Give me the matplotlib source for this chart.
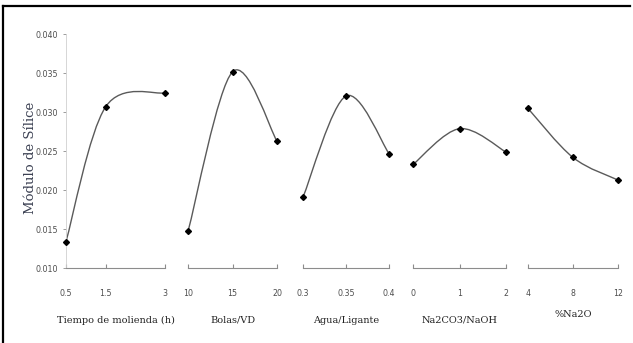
import matplotlib
matplotlib.use("Agg")
import matplotlib.pyplot as plt
from matplotlib.path import Path
from matplotlib.patches import PathPatch
from matplotlib.lines import Line2D

# factor levels and measured silica modulus for each factor
tiempo = [0.5, 1.5, 3]
tiempo_ms = [0.0134, 0.0307, 0.0325]
bolas = [10, 15, 20]
bolas_ms = [0.0147, 0.0352, 0.0263]
agua = [0.3, 0.35, 0.4]
agua_ms = [0.0191, 0.0321, 0.0247]
carbonato = [0, 1, 2]
carbonato_ms = [0.0233, 0.0279, 0.0249]
na2o = [4, 8, 12]
na2o_ms = [0.0305, 0.0242, 0.0213]

factor_names = ["Tiempo de molienda (h)", "Bolas/VD", "Agua/Ligante",
                "Na2CO3/NaOH", "%Na2O"]
tick_labels = [["0.5", "1.5", "3"], ["10", "15", "20"], ["0.3", "0.35", "0.4"],
               ["0", "1", "2"], ["4", "8", "12"]]
y_ticks = [0.010, 0.015, 0.020, 0.025, 0.030, 0.035, 0.040]

xs_all = [tiempo, bolas, agua, carbonato, na2o]
ys_all = [tiempo_ms, bolas_ms, agua_ms, carbonato_ms, na2o_ms]

W, H = 633, 343
# panel left/right edges in pixels
panels_px = [(66, 165), (188, 277), (303, 389), (413, 506), (528, 618)]
y_top, y_bot = 34.5, 268

tick_font = ["Liberation Sans Narrow", "DejaVu Sans"]
serif = ["DejaVu Serif"]


def smooth_path(xs, ys):
    # cubic bezier through the points, catmull-rom style tangents
    pts = list(zip(xs, ys))
    n = len(pts)
    verts = [pts[0]]
    codes = [Path.MOVETO]
    for i in range(n - 1):
        p0 = pts[max(i - 1, 0)]
        p1 = pts[i]
        p2 = pts[i + 1]
        p3 = pts[min(i + 2, n - 1)]
        c1 = (p1[0] + (p2[0] - p0[0]) / 6, p1[1] + (p2[1] - p0[1]) / 6)
        c2 = (p2[0] - (p3[0] - p1[0]) / 6, p2[1] - (p3[1] - p1[1]) / 6)
        verts += [c1, c2, p2]
        codes += [Path.CURVE4] * 3
    return Path(verts, codes)


fig = plt.figure(figsize=(W / 100, H / 100), dpi=100)

for k, (x0, x1) in enumerate(panels_px):
    ax = fig.add_axes([x0 / W, 1 - y_bot / H, (x1 - x0) / W, (y_bot - y_top) / H])
    xs, ys = xs_all[k], ys_all[k]
    ax.add_patch(PathPatch(smooth_path(xs, ys), fill=False, edgecolor="#5a5a5a",
                           linewidth=1.0, zorder=2))
    ax.plot(xs, ys, linestyle="none", marker="D", markersize=3.0,
            color="black", zorder=3, clip_on=False)
    ax.set_xlim(xs[0], xs[-1])
    ax.set_ylim(0.010, 0.040)

    for s in ["top", "right"]:
        ax.spines[s].set_visible(False)
    ax.spines["bottom"].set_color("#8c8c8c")
    ax.spines["bottom"].set_linewidth(0.8)

    ax.set_xticks(xs)
    ax.set_xticklabels(tick_labels[k], fontsize=5.7, color="#4d4d4d",
                       family=tick_font)
    ax.tick_params(axis="x", direction="in", length=3, width=0.8,
                   color="#8c8c8c", pad=15)

    if k == 0:
        ax.spines["left"].set_color("#d0d0d0")
        ax.spines["left"].set_linewidth(0.6)
        ax.set_yticks(y_ticks)
        ax.set_yticklabels([f"{v:.3f}" for v in y_ticks], fontsize=5.7,
                           color="#4d4d4d", family=tick_font)
        ax.tick_params(axis="y", direction="out", length=2.5, width=0.6,
                       color="#8c8c8c", pad=3)
        ax.set_ylabel("Módulo de Sílice", family=serif, fontsize=9.5,
                      color="#3b4052")
        ax.yaxis.set_label_coords(-0.29, 0.47)
    else:
        ax.spines["left"].set_visible(False)
        ax.set_yticks([])

    ax.set_xlabel(factor_names[k], family=serif, fontsize=7.0, color="#222222",
                  labelpad=13 if k < 4 else 9)
    ax.set_facecolor("none")

# frame lines along the top and left of the figure
fig.add_artist(Line2D([3 / W, 630 / W], [1 - 6 / H, 1 - 6 / H],
                      transform=fig.transFigure, color="black", linewidth=1.6))
fig.add_artist(Line2D([3 / W, 3 / W], [0, 1 - 6 / H],
                      transform=fig.transFigure, color="black", linewidth=1.6))

fig.savefig("out.png", dpi=100)
